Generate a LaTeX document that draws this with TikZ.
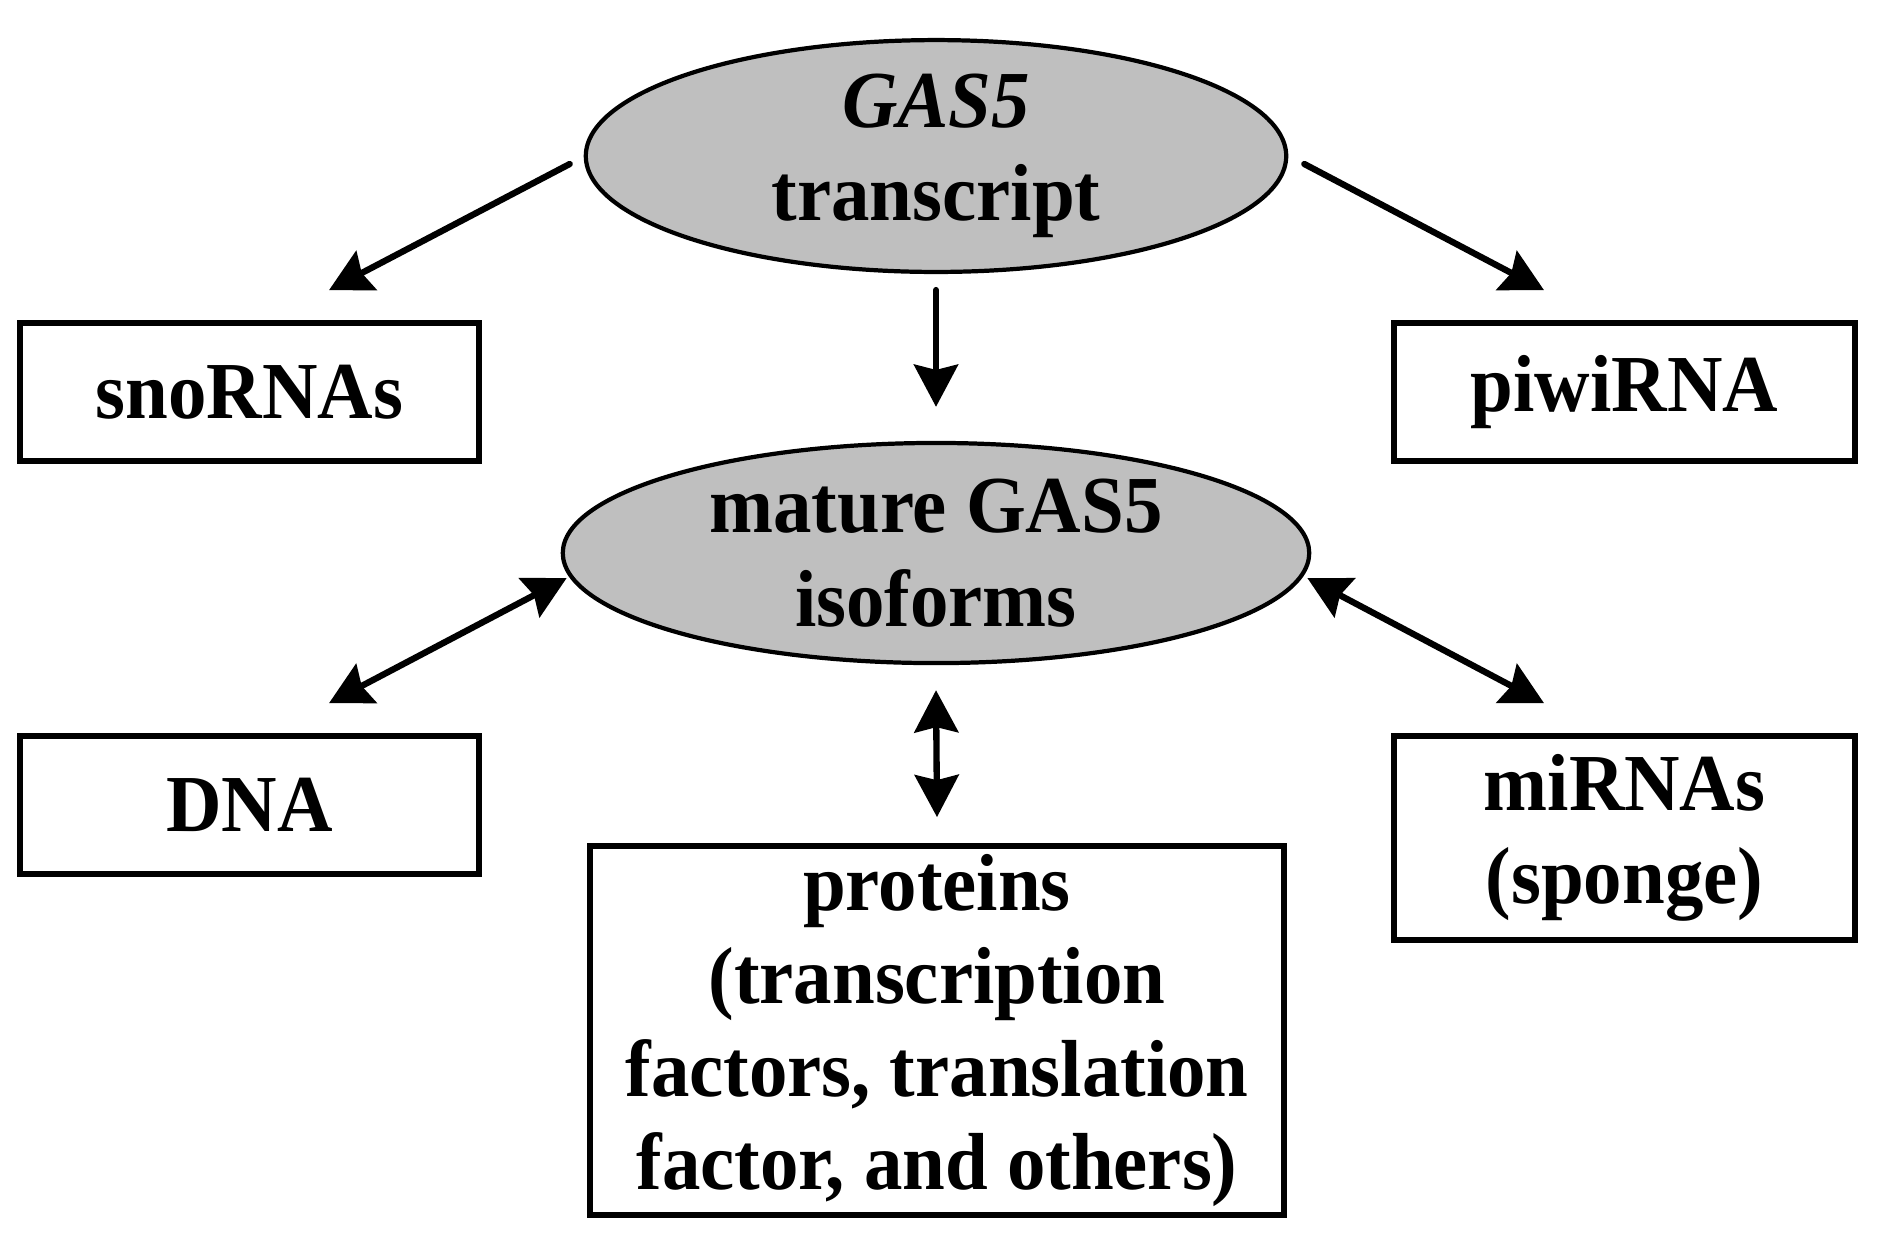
\documentclass[tikz,border=0pt]{standalone}
\usepackage{fontspec}
\setmainfont{Liberation Serif}[FakeStretch=0.95]
\usetikzlibrary{calc, positioning, arrows.meta, shapes.geometric}

\tikzset{
    boxnode/.style={draw, line width=1.6pt, rectangle, align=center, inner sep=0pt},
    ovalnode/.style={draw, line width=1.2pt, ellipse, fill=gray!50, align=center, inner sep=0pt},
    arr/.style={line width=1.8pt, line cap=round, -{Stealth[length=12pt, width=12.5pt, inset=1.5pt]}},
    dblarr/.style={line width=1.8pt, {Stealth[length=12pt, width=12.5pt, inset=1.5pt]}-{Stealth[length=12pt, width=12.5pt, inset=1.5pt]}}
}

\begin{document}
\begin{tikzpicture}[x=0.01cm, y=-0.01cm, font=\fontsize{23}{26.5}\selectfont\bfseries]
            % Fix the page size
            \useasboundingbox (0,0) rectangle (1877,1235);

            % Add the two ovals
            \node[ovalnode, minimum width=7cm, minimum height=1.96cm] (transcript) at (936,156) {\textit{GAS5}\\transcript};
            \node[ovalnode, minimum width=7.46cm, minimum height=2.2cm] (mature) at (936,553) {mature GAS5\\isoforms};

            % Add the boxes
            \node[boxnode, minimum width=4.59cm, minimum height=1.38cm] (sno) at (249.5,392) {snoRNAs};
            \node[boxnode, minimum width=4.61cm, minimum height=1.38cm] (piwi) at (1624.5,392) {piwiRNA};
            \node[boxnode, minimum width=4.59cm, minimum height=1.38cm] (dna) at (249.5,805) {DNA};
            \node[boxnode, minimum width=4.61cm, minimum height=2.04cm] (mirna) at (1624.5,838) {miRNAs\\(sponge)};
            \node[boxnode, minimum width=6.94cm, minimum height=3.69cm] (prot) at (937,1030.5) {proteins\\(transcription\\factors, translation\\factor, and others)};

            % Add arrows from the transcript
            \draw[arr] ($(transcript.west)+(-14,8)$) -- ($(sno.north)+(79.5,-30)$);
            \draw[arr] ($(transcript.east)+(16,8)$) -- ($(piwi.north)+(-80.5,-30)$);
            \draw[arr] ($(transcript.south)+(0,16)$) -- ($(mature.north)+(0,-34)$);

            % Add double arrows from the isoforms
            \draw[dblarr] ($(mature.west)+(6,25)$) -- ($(dna.north)+(79.5,-30)$);
            \draw[dblarr] ($(mature.east)+(-4,25)$) -- ($(mirna.north)+(-80.5,-30)$);
            \draw[dblarr] ($(mature.south)+(0,25)$) -- ($(prot.north)+(0,-26)$);

        \end{tikzpicture}
\end{document}
